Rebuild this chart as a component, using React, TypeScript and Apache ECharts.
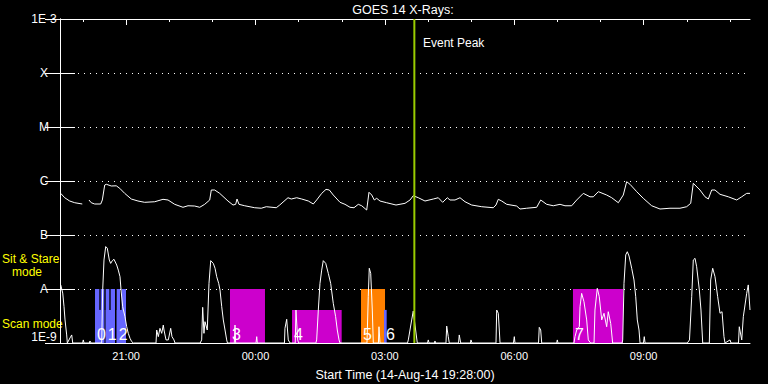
import React, { useEffect, useRef } from 'react';
import * as echarts from 'echarts';

const TITLE = 'GOES 14 X-Rays:';
const START_LABEL = 'Start Time (14-Aug-14 19:28:00)';
const EVENT_LABEL = 'Event Peak';
const SIT_LABEL_1 = 'Sit & Stare';
const SIT_LABEL_2 = 'mode';
const SCAN_LABEL = 'Scan mode';

// x values: minutes after the start time (14-Aug-14 19:28 UT)
const hourTickMinutes = [32, 92, 152, 212, 272, 332, 392, 452, 512, 572, 632, 692, 752, 812, 872, 932];
const majorTickMinutes = [92, 272, 452, 632, 812];
const majorTickLabels = ['21:00', '00:00', '03:00', '06:00', '09:00'];

const fluxExponents = [-9, -8, -7, -6, -5, -4, -3];
const fluxLabels = ['1E-9', 'A', 'B', 'C', 'M', 'X', '1E-3'];

// GOES long channel (1-8 A), W/m^2
const longTimes = [1, 6.5, 13.5, 20.5, 31, 35, 40.3, 43.5, 48.3, 56.6, 58.9, 62.2, 64.4, 71.4, 78.3, 83.1, 90, 99.2, 108.5, 117.8, 131.8, 143.3, 150.3, 159.6, 171.1, 178.1, 187.4, 194.4, 201.3, 208.3, 210.5, 215.2, 222.2, 233.7, 240.7, 244.4, 246.3, 249, 257, 270.9, 280, 287, 300.9, 305.7, 317.2, 321.8, 329.3, 336.3, 345.5, 352.4, 357.1, 364.1, 370.1, 374.7, 380.2, 389.6, 396.5, 403.5, 409, 415, 419.8, 426.7, 429.9, 433.7, 437.3, 440.6, 445.2, 454.5, 467.5, 480, 487, 491.5, 498.5, 507.8, 519.4, 526.3, 532.4, 538.9, 542.6, 549.6, 556.5, 563.5, 572.8, 586.7, 602.8, 606.6, 609.8, 614.5, 621.5, 635.4, 640, 649.3, 663.2, 668.8, 677.1, 686.3, 695.7, 702.6, 711.9, 718.9, 728.1, 737.4, 742, 749, 760.6, 767.6, 776.8, 783.7, 788.4, 793, 802.4, 811.5, 823.2, 834.8, 848.7, 862.6, 871.9, 877.5, 881.1, 890.4, 897.4, 902, 906.7, 911.3, 918.3, 929.8, 941.5, 948.5, 955.4, 960];
const longFlux = [5.9e-7, 4.9e-7, 4.26e-7, 3.96e-7, 3.75e-7, null, 4.45e-7, 3.96e-7, 3.75e-7, 3.75e-7, 4.45e-7, 8.43e-7, 8.7e-7, 8.08e-7, 8.15e-7, 7.33e-7, 5.9e-7, 4.64e-7, 4.26e-7, 4.03e-7, 4.13e-7, 4.58e-7, 4.45e-7, 3.7e-7, 3.26e-7, 3.48e-7, 3.44e-7, 3.26e-7, 3.7e-7, 4.45e-7, 6.81e-7, 6.81e-7, 5.9e-7, 4.26e-7, 3.59e-7, 3.7e-7, 4.64e-7, 3.7e-7, 3.48e-7, 3.2e-7, 3.13e-7, 3.34e-7, 3.2e-7, 3.59e-7, 4.9e-7, 4.64e-7, 4.9e-7, 4.64e-7, 4.26e-7, 3.75e-7, 4.45e-7, 5.9e-7, 7.0e-7, 6.81e-7, 5.5e-7, 4.03e-7, 3.7e-7, 3.26e-7, 3.2e-7, 3.7e-7, 3.48e-7, 2.9e-7, 6.18e-7, 5.5e-7, 4.45e-7, 4.78e-7, 4.26e-7, 3.96e-7, 3.59e-7, 3.86e-7, 4.45e-7, 5.34e-7, 4.9e-7, 4.26e-7, 4.64e-7, 4.9e-7, 4.03e-7, 4.9e-7, 4.45e-7, 4.45e-7, 4.9e-7, 4.13e-7, 3.59e-7, 3.34e-7, 3.2e-7, 3.59e-7, 4.58e-7, 4.26e-7, 3.7e-7, 3.44e-7, 3.03e-7, 3.13e-7, 3.26e-7, 4.45e-7, 3.7e-7, 3.48e-7, 3.7e-7, 3.48e-7, 3.48e-7, 4.45e-7, 5.9e-7, 5.1e-7, 5.1e-7, 6.34e-7, 5.5e-7, 4.9e-7, 3.96e-7, 5.5e-7, 9.7e-7, 8.7e-7, 6.34e-7, 4.78e-7, 3.48e-7, 3.03e-7, 3.13e-7, 3.13e-7, 3.34e-7, 3.86e-7, 9.06e-7, 6.81e-7, 5.1e-7, 4.64e-7, 6.81e-7, 6.81e-7, 5.67e-7, 5.1e-7, 4.45e-7, 5.1e-7, 5.9e-7, 5.9e-7];

// GOES short channel (0.5-4 A), W/m^2
const shortTimes = [0, 1, 3.8, 5.6, 7, 9.3, 10.2, 13.9, 16.3, 17.7, 31.5, 32.4, 33.4, 40.8, 41.7, 43.1, 58, 59.4, 61.2, 63.6, 65.8, 68.6, 70.5, 72.8, 75.1, 78.9, 81.1, 83.5, 84.9, 87.2, 90.4, 92.8, 95, 97.4, 99.8, 102, 133.6, 134.5, 136.8, 139.1, 141.5, 143.7, 144.7, 147.5, 150.7, 154, 155.8, 158.6, 160, 195, 197.1, 198.5, 200.3, 201.7, 204.9, 207.3, 209.7, 213.3, 215.7, 218, 220.8, 222.6, 225, 227.2, 229.6, 231.9, 233, 242.5, 243.5, 244.4, 272.7, 273.7, 274.5, 312.3, 313, 315.4, 317.6, 320, 327.3, 328.3, 330.7, 332, 356, 357.1, 359.4, 361.7, 364.1, 366.3, 369.7, 373.3, 376.6, 380.2, 383.5, 385.8, 388.2, 389.6, 427.1, 428.9, 430.3, 432.3, 434.5, 435.9, 443, 443.8, 445.2, 483.5, 484.6, 489.3, 491.5, 493.9, 497.1, 511.3, 512.4, 513.4, 521, 521.7, 522.5, 537, 538, 540.2, 541.6, 554.5, 555.5, 557.5, 571, 571.8, 573.2, 606.6, 607.6, 609.8, 611.2, 612.2, 630.9, 632.1, 633, 665.8, 666.8, 668.8, 670.2, 691, 691.9, 692.8, 715.1, 716.5, 718.9, 722.5, 723.5, 725.8, 729, 732.8, 735, 738.3, 743, 744.3, 747.5, 750.3, 753.7, 756.9, 760.6, 762.8, 766.2, 768.9, 782, 782.9, 784.7, 787.1, 789.3, 791.7, 795.4, 798.6, 801, 803.2, 805.6, 807, 811.8, 812.9, 814, 872.8, 875.8, 878.9, 881.1, 883.5, 885.8, 889.5, 891.8, 894.2, 903.4, 905.3, 908.1, 911.3, 915, 918.3, 921.1, 923.8, 925.2, 932.2, 933.6, 944, 945.1, 948.5, 950.7, 955.4, 957.6, 960];
const shortFlux = [1.19e-8, 1.19e-8, 8.4e-9, 4.7e-9, 2.67e-9, 1.41e-9, 1e-9, 1.24e-9, 1.41e-9, 1e-9, 1e-9, 1.14e-9, 1e-9, 1e-9, 1.09e-9, 1e-9, 1e-9, 9.6e-9, 3.44e-8, 6.1e-8, 5.7e-8, 3.44e-8, 2.98e-8, 3.35e-8, 3.55e-8, 2.78e-8, 2.24e-8, 1.69e-8, 9.6e-9, 4.7e-9, 3.07e-9, 2.0e-9, 1.51e-9, 1.22e-9, 1.06e-9, 1e-9, 1e-9, 1.74e-9, 1.31e-9, 1.87e-9, 1.51e-9, 2.15e-9, 1.74e-9, 1.14e-9, 1.14e-9, 1.87e-9, 1.31e-9, 1.14e-9, 1e-9, 1e-9, 1.14e-9, 4.58e-9, 1.51e-9, 2.48e-9, 1.74e-9, 1.27e-8, 3.35e-8, 2.98e-8, 2.42e-8, 1.69e-8, 1.27e-8, 9.6e-9, 4.7e-9, 2.67e-9, 1.74e-9, 1.14e-9, 1e-9, 1e-9, 2.15e-9, 1e-9, 1e-9, 1.31e-9, 1e-9, 1e-9, 1.87e-9, 2.75e-9, 1.14e-9, 1e-9, 1e-9, 4.08e-9, 1.14e-9, 1e-9, 1e-9, 1.14e-9, 4.08e-9, 1.27e-8, 2.24e-8, 3.35e-8, 2.98e-8, 1.95e-8, 1.27e-8, 5.43e-9, 3.07e-9, 1.74e-9, 1.14e-9, 1e-9, 1e-9, 7.2e-9, 2.42e-8, 1.95e-8, 4.08e-9, 1e-9, 1e-9, 2.0e-9, 1e-9, 1e-9, 1.14e-9, 2.67e-9, 3.9e-9, 2.15e-9, 1e-9, 1e-9, 1.14e-9, 1e-9, 1e-9, 1.09e-9, 1e-9, 1e-9, 2.06e-9, 1.31e-9, 1e-9, 1e-9, 1.41e-9, 1e-9, 1e-9, 1.14e-9, 1e-9, 1e-9, 4.08e-9, 3.55e-9, 1.74e-9, 1e-9, 1e-9, 1.31e-9, 1e-9, 1e-9, 1.95e-9, 1.74e-9, 1e-9, 1e-9, 1.14e-9, 1e-9, 1e-9, 1.31e-9, 1.74e-9, 2.0e-9, 4.7e-9, 8.3e-9, 5.8e-9, 2.67e-9, 1.14e-9, 1e-9, 1e-9, 4.08e-9, 1.03e-8, 7.2e-9, 2.67e-9, 3.55e-9, 2.0e-9, 3.8e-9, 2.3e-9, 1e-9, 1e-9, 1.14e-9, 1.27e-8, 4.28e-8, 4.9e-8, 4.08e-8, 2.42e-8, 1.47e-8, 7.2e-9, 2.67e-9, 1.74e-9, 1e-9, 1e-9, 1.31e-9, 1e-9, 1e-9, 1.14e-9, 7.2e-9, 3.44e-8, 3.7e-8, 2.58e-8, 9.6e-9, 4.08e-9, 1e-9, 1e-9, 1.47e-8, 2.42e-8, 1.69e-8, 7.2e-9, 3.55e-9, 3.8e-9, 1.31e-9, 1e-9, 1.14e-9, 1e-9, 1e-9, 2.0e-9, 1.14e-9, 3.07e-9, 8.3e-9, 1.19e-8, 4.08e-9];

// IRIS observations (minutes after start)
const obsLabels = ['0', '1', '2', '3', '4', '5', '6', '7'];
const obsStart = [48.7, 63.6, 78.9, 236.5, 322.8, 418.8, 450.8, 713.7];
const obsEnd = [61.6, 76.5, 91.8, 285.2, 391.9, 452.2, 454.5, 783.3];
const obsMode = ['scan', 'scan', 'scan', 'sit', 'scan', 'sit', 'scan', 'sit'];
const obsColor = ['#6666ff', '#6666ff', '#6666ff', '#cc00cc', '#cc00cc', '#ff8000', '#6666ff', '#cc00cc'];
// sit & stare sub-intervals inside observations 0-2
const rasterStart = [48.7, 56.6, 63.6, 70.5, 78.9, 85.8];
const rasterEnd = [54.7, 61.6, 68.6, 76.5, 83.5, 91.8];
const rasterColor = ['#6666ff', '#6666ff', '#6666ff', '#6666ff', '#6666ff', '#6666ff'];

const eventPeakMinute = 493;

const FLOOR = 1e-9;
const SIT_TOP = 1e-8;
const SCAN_TOP = 4.1e-9;
const FONT = 'Liberation Sans, Arial, sans-serif';

type Rect = { start: number; end: number; top: number; color: string; label: string };

export default function App() {
  const ref = useRef<HTMLDivElement>(null);

  useEffect(() => {
    if (!ref.current) return;
    const chart = echarts.init(ref.current, null, { renderer: 'svg' });

    const rects: Rect[] = [];
    rasterStart.forEach((s, i) => rects.push({ start: s, end: rasterEnd[i], top: SIT_TOP, color: rasterColor[i], label: '' }));
    obsStart.forEach((s, i) =>
      rects.push({ start: s, end: obsEnd[i], top: obsMode[i] === 'sit' ? SIT_TOP : SCAN_TOP, color: obsColor[i], label: obsLabels[i] })
    );

    const longData = longTimes.map((t, i) => [t, longFlux[i] === null ? '-' : longFlux[i]]);
    const shortData = shortTimes.map((t, i) => [t, shortFlux[i]]);

    const yLabel = (v: number) => {
      const e = Math.round(Math.log10(v));
      const i = fluxExponents.indexOf(e);
      return i >= 0 ? fluxLabels[i] : '';
    };

    chart.setOption({
      animation: false,
      backgroundColor: '#000',
      grid: { left: 60, right: 18, top: 19, bottom: 41, containLabel: false, outerBoundsMode: 'none' },
      xAxis: [
        {
          type: 'value', position: 'bottom', min: 0, max: 960,
          axisLine: { show: true, lineStyle: { color: '#fff', width: 1 } },
          axisTick: { show: false },
          splitLine: { show: false },
          axisLabel: {
            color: '#fff', fontSize: 11, fontFamily: FONT, margin: 7,
            customValues: majorTickMinutes,
            formatter: (v: number) => {
              const i = majorTickMinutes.indexOf(Math.round(v));
              return i >= 0 ? majorTickLabels[i] : '';
            },
          },
          name: START_LABEL, nameLocation: 'middle', nameGap: 25,
          nameTextStyle: { color: '#fff', fontSize: 12.5, fontFamily: FONT },
        },
        {
          type: 'value', position: 'top', min: 0, max: 960,
          axisLine: { show: true, lineStyle: { color: '#fff', width: 1 } },
          axisTick: { show: true, inside: true, length: 3, customValues: hourTickMinutes, lineStyle: { color: '#fff' } },
          axisLabel: { show: false },
          splitLine: { show: false },
        },
        {
          type: 'value', position: 'top', min: 0, max: 960,
          axisLine: { show: false },
          axisTick: { show: true, inside: true, length: 6, customValues: majorTickMinutes, lineStyle: { color: '#fff' } },
          axisLabel: { show: false },
          splitLine: { show: false },
        },
      ],
      yAxis: [
        {
          type: 'log', logBase: 10, min: 1e-9, max: 1e-3, position: 'left',
          axisLine: { show: true, lineStyle: { color: '#fff', width: 1 } },
          axisTick: { show: true, inside: true, length: 15, lineStyle: { color: '#fff' } },
          minorTick: { show: false },
          axisLabel: {
            color: '#fff', fontSize: 12, lineHeight: 12, fontFamily: FONT, margin: 16, align: 'center',
            formatter: yLabel,
            verticalAlignMinLabel: 'bottom', verticalAlignMaxLabel: 'top',
          },
          splitLine: { show: true, lineStyle: { color: '#fff', type: [1, 5], width: 1 } },
        },
        {
          type: 'log', logBase: 10, min: 1e-9, max: 1e-3, position: 'right',
          axisLine: { show: true, lineStyle: { color: '#fff', width: 1 } },
          axisTick: { show: true, inside: true, length: 15, lineStyle: { color: '#fff' } },
          axisLabel: { show: false },
          splitLine: { show: false },
        },
      ],
      series: [
        {
          type: 'custom', name: 'IRIS', xAxisIndex: 0, yAxisIndex: 0,
          data: rects.map((r) => [r.start, r.end, r.top]),
          renderItem: (params: any, api: any) => {
            const r = rects[params.dataIndex];
            const p0 = api.coord([r.start, FLOOR]);
            const p1 = api.coord([r.end, r.top]);
            const children: any[] = [
              { type: 'rect', shape: { x: p0[0], y: p1[1], width: p1[0] - p0[0], height: p0[1] - p1[1] }, style: { fill: r.color } },
            ];
            if (r.label) {
              children.push({
                type: 'text', z2: 10,
                style: { text: r.label, x: p0[0] + 2, y: p0[1] - 1, fill: '#fff', fontSize: 16, fontFamily: FONT, align: 'left', verticalAlign: 'bottom' },
              });
            }
            return { type: 'group', children };
          },
          z: 1,
        },
        {
          type: 'line', name: 'long', xAxisIndex: 0, yAxisIndex: 0, data: longData,
          showSymbol: false, connectNulls: false, lineStyle: { color: '#fff', width: 1 }, z: 3,
        },
        {
          type: 'line', name: 'short', xAxisIndex: 0, yAxisIndex: 0, data: shortData,
          showSymbol: false, lineStyle: { color: '#fff', width: 1 }, z: 3,
        },
        {
          type: 'line', name: 'event', xAxisIndex: 0, yAxisIndex: 0,
          data: [[eventPeakMinute, 1e-9], [eventPeakMinute, 1e-3]],
          showSymbol: false, lineStyle: { color: '#99cc00', width: 2 }, z: 5,
        },
      ],
      graphic: [
        { type: 'text', x: 403, y: 10, style: { text: TITLE, fill: '#fff', fontSize: 12.5, lineHeight: 13, fontFamily: FONT, verticalAlign: 'middle', align: 'center' } },
        { type: 'text', x: 423, y: 43, style: { text: EVENT_LABEL, fill: '#fff', fontSize: 12, fontFamily: FONT, verticalAlign: 'middle', align: 'left' } },
        { type: 'text', x: 2, y: 258.5, style: { text: SIT_LABEL_1, fill: '#ffff00', fontSize: 12, lineHeight: 12, fontFamily: FONT, verticalAlign: 'middle', align: 'left' } },
        { type: 'text', x: 12, y: 271.5, style: { text: SIT_LABEL_2, fill: '#ffff00', fontSize: 12, lineHeight: 12, fontFamily: FONT, verticalAlign: 'middle', align: 'left' } },
        { type: 'text', x: 2, y: 324, style: { text: SCAN_LABEL, fill: '#ffff00', fontSize: 12, lineHeight: 12, fontFamily: FONT, verticalAlign: 'middle', align: 'left' } },
      ],
    });

    return () => chart.dispose();
  }, []);

  return (
    <div
      ref={ref}
      style={{ position: 'fixed', left: 0, top: 0, width: 768, height: 384, background: '#000' }}
    />
  );
}
